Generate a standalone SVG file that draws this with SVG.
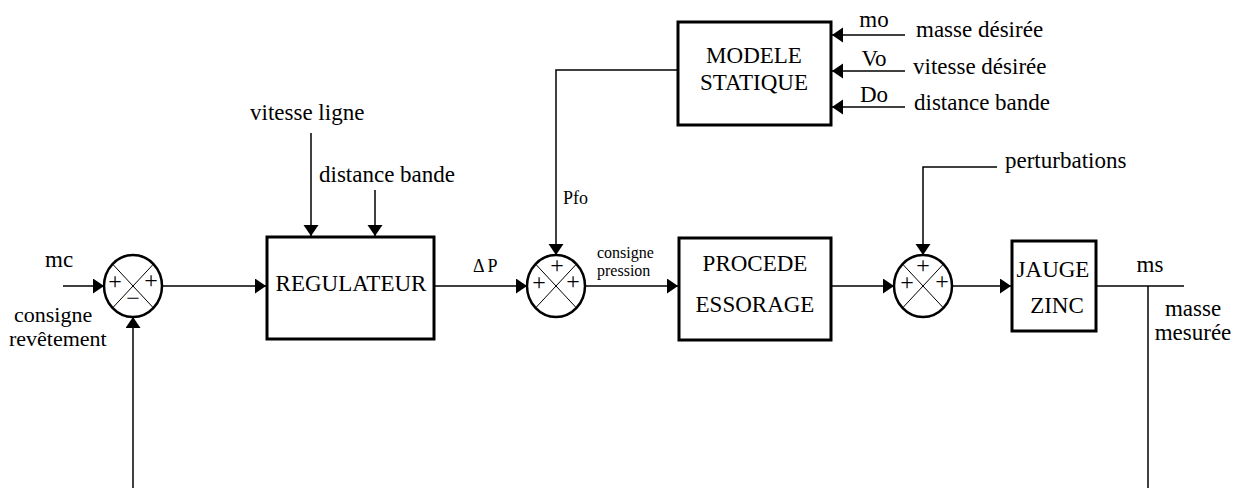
<svg xmlns="http://www.w3.org/2000/svg" width="1239" height="488" viewBox="0 0 1239 488">
<defs>
<style>
text{font-family:"Liberation Serif","Times New Roman",serif;fill:#000;font-size:23px}
.s{font-size:16px}
.m{font-size:18px}
.c{text-anchor:middle}
.box{fill:#fff;stroke:#000;stroke-width:3}
.sum{fill:#fff;stroke:#000;stroke-width:2.5}
.x{stroke:#000;stroke-width:1}
.ln{fill:none;stroke:#000;stroke-width:1.5}
.ar{marker-end:url(#ah)}
.op{font-size:24px;text-anchor:middle}
</style>
<marker id="ah" markerUnits="userSpaceOnUse" markerWidth="12" markerHeight="16" refX="11" refY="7.5" orient="auto">
<path d="M0,0 L11,7.5 L0,15 z" fill="#000"/>
</marker>
</defs>
<rect width="1239" height="488" fill="#fff"/>
<g id="connectors">
<path class="ln ar" d="M63 286 H104"/>
<path class="ln ar" d="M162 286 H266"/>
<path class="ln ar" d="M311 133 V236"/>
<path class="ln ar" d="M375 190 V236"/>
<path class="ln ar" d="M434 286 H527"/>
<path class="ln ar" d="M678 70 H556 V255"/>
<path class="ln ar" d="M585 286 H678"/>
<path class="ln ar" d="M831 286 H894"/>
<path class="ln ar" d="M997 167 H923 V255"/>
<path class="ln ar" d="M952 286 H1011"/>
<path class="ln" d="M1096 286 H1184"/>
<path class="ln" d="M1148 286 V488"/>
<path class="ln ar" d="M133 488 V317"/>
<path class="ln ar" d="M905 35 H832"/>
<path class="ln ar" d="M905 71 H832"/>
<path class="ln ar" d="M905 107 H832"/>
</g>
<g id="sum1">
<ellipse class="sum" cx="133" cy="286" rx="29" ry="31"/>
<line class="x" x1="112.5" y1="264" x2="153.5" y2="308"/>
<line class="x" x1="153.5" y1="264" x2="112.5" y2="308"/>
<text class="op" x="115" y="289">+</text>
<text class="op" x="151" y="288">+</text>
<text class="op" x="133" y="306">−</text>
</g>
<g id="sum2">
<ellipse class="sum" cx="556" cy="286" rx="29" ry="31"/>
<line class="x" x1="535.5" y1="264" x2="576.5" y2="308"/>
<line class="x" x1="576.5" y1="264" x2="535.5" y2="308"/>
<text class="op" x="557" y="273">+</text>
<text class="op" x="539" y="290">+</text>
<text class="op" x="573" y="289">+</text>
</g>
<g id="sum3">
<ellipse class="sum" cx="923" cy="286" rx="29" ry="31"/>
<line class="x" x1="902.5" y1="264" x2="943.5" y2="308"/>
<line class="x" x1="943.5" y1="264" x2="902.5" y2="308"/>
<text class="op" x="923" y="273">+</text>
<text class="op" x="907" y="290">+</text>
<text class="op" x="942" y="289">+</text>
</g>
<g id="regulateur">
<rect class="box" x="267" y="237" width="167" height="102"/>
<text class="c" x="351" y="291">REGULATEUR</text>
</g>
<g id="modele">
<rect class="box" x="678" y="22" width="153" height="103"/>
<text class="c" x="754" y="63">MODELE</text>
<text class="c" x="754" y="90">STATIQUE</text>
</g>
<g id="procede">
<rect class="box" x="679" y="238" width="152" height="102"/>
<text class="c" x="755" y="271">PROCEDE</text>
<text class="c" x="755" y="312">ESSORAGE</text>
</g>
<g id="jauge">
<rect class="box" x="1012" y="241" width="84" height="90"/>
<text class="c" x="1053" y="277">JAUGE</text>
<text class="c" x="1057" y="313">ZINC</text>
</g>
<g id="labels">
<text x="45" y="267">mc</text>
<text x="14" y="322" style="font-size:22px">consigne</text>
<text x="9" y="346" style="font-size:22px">revêtement</text>
<text x="250" y="120">vitesse ligne</text>
<text x="319" y="182">distance bande</text>
<text class="m" x="473" y="272" letter-spacing="3">ΔP</text>
<text class="m" x="563" y="204">Pfo</text>
<text class="s" x="597" y="258">consigne</text>
<text class="s" x="597" y="276">pression</text>
<text class="c" x="874" y="27">mo</text>
<text class="c" x="874" y="66">Vo</text>
<text class="c" x="874" y="102">Do</text>
<text x="916" y="37">masse désirée</text>
<text x="913" y="74">vitesse désirée</text>
<text x="914" y="110">distance bande</text>
<text x="1005" y="168">perturbations</text>
<text class="c" x="1150" y="272">ms</text>
<text class="c" x="1193" y="316">masse</text>
<text class="c" x="1193" y="340">mesurée</text>
</g>
</svg>
